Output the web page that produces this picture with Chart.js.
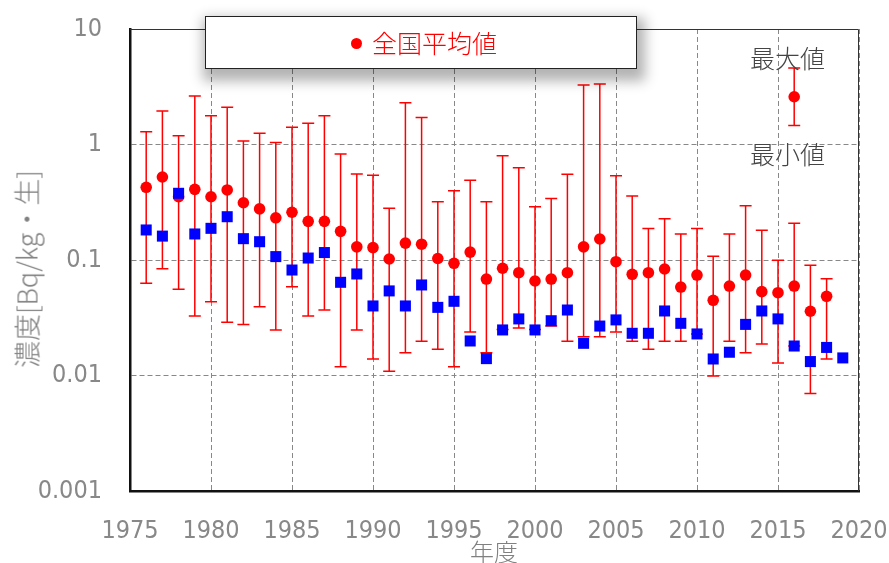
<!DOCTYPE html>
<html>
<head>
<meta charset="utf-8">
<script src="https://cdn.jsdelivr.net/npm/chart.js@4.4.1/dist/chart.umd.min.js"></script>
<style>
  body { margin: 0; background: #fff; }
  #wrap { position: relative; width: 889px; height: 563px; }
  #legend {
    position: absolute; left: 205px; top: 16px; width: 430px; height: 51px;
    border: 1.5px solid #222; background: #fff;
    box-shadow: 3px 7px 12px 5px rgba(0,0,0,0.3);
    font-family: "Noto Sans CJK JP"; font-weight: 300; font-size: 25px; color: #ff0000;
  }
  #legend .dot { position: absolute; left: 145px; top: 21px; width: 11px; height: 11px; border-radius: 50%; background: #ff0000; }
  #legend .txt { position: absolute; left: 166px; top: 7px; line-height: 36px; }
  .note { position: absolute; font-family: "Noto Sans CJK JP"; font-weight: 300; font-size: 25px; color: #444; line-height: 30px; }
  #ytitle {
    position: absolute; left: 26px; top: 269px; transform: translate(-50%, -50%) rotate(-90deg);
    white-space: nowrap; font-family: "Noto Sans CJK JP"; font-weight: 300; font-size: 27px; color: #808080;
  }
  #xtitle {
    position: absolute; left: 494px; top: 550px; transform: translate(-50%, -50%);
    font-family: "Noto Sans CJK JP"; font-weight: 300; font-size: 24px; color: #808080;
  }
</style>
</head>
<body>
<div id="wrap">
  <canvas id="chart" width="889" height="563"></canvas>
  <div id="legend"><span class="dot"></span><span class="txt">全国平均値</span></div>
  <div class="note" style="left:750px;top:42px;">最大値</div>
  <div class="note" style="left:750px;top:138px;">最小値</div>
  <div id="ytitle">濃度[Bq/kg・生]</div>
  <div id="xtitle">年度</div>
</div>
<script>
// 年度
let years = [1976, 1977, 1978, 1979, 1980, 1981, 1982, 1983, 1984, 1985,
  1986, 1987, 1988, 1989, 1990, 1991, 1992, 1993, 1994, 1995,
  1996, 1997, 1998, 1999, 2000, 2001, 2002, 2003, 2004, 2005,
  2006, 2007, 2008, 2009, 2010, 2011, 2012, 2013, 2014, 2015,
  2016, 2017, 2018];

// 全国平均値 and min / max
let meanVals = [0.426, 0.523, 0.353, 0.409, 0.353, 0.404, 0.313, 0.277, 0.232, 0.259,
  0.216, 0.216, 0.177, 0.130, 0.128, 0.102, 0.140, 0.137, 0.103, 0.0936,
  0.117, 0.0684, 0.0848, 0.0776, 0.0658, 0.0684, 0.0776, 0.130, 0.152, 0.0967,
  0.0752, 0.0776, 0.0836, 0.0583, 0.0741, 0.0448, 0.0595, 0.0741, 0.0532, 0.0521,
  0.0595, 0.0360, 0.0485];
let maxVals = [1.29, 1.95, 1.19, 2.63, 1.77, 2.10, 1.07, 1.25, 1.04, 1.41,
  1.53, 1.77, 0.828, 0.556, 0.541, 0.281, 2.30, 1.71, 0.320, 0.398,
  0.490, 0.320, 0.800, 0.630, 0.289, 0.340, 0.552, 3.27, 3.34, 0.537,
  0.358, 0.187, 0.228, 0.168, 0.187, 0.108, 0.168, 0.295, 0.181, 0.0993,
  0.208, 0.090, 0.0689];
let minVals = [0.0628, 0.0841, 0.0557, 0.0327, 0.0435, 0.0289, 0.0277, 0.0394, 0.0248, 0.0587,
  0.0327, 0.0369, 0.0119, 0.0248, 0.0139, 0.0109, 0.0157, 0.0198, 0.0169, 0.0119,
  0.0238, 0.0157, 0.0250, 0.0258, 0.0250, 0.0268, 0.0198, 0.0217, 0.0217, 0.0238,
  0.0198, 0.0169, 0.0198, 0.0198, 0.0229, 0.0099, 0.0198, 0.0157, 0.0187, 0.0128,
  0.0180, 0.0070, 0.0139];

// blue squares
let blueYears = [1976, 1977, 1978, 1979, 1980, 1981, 1982, 1983, 1984, 1985,
  1986, 1987, 1988, 1989, 1990, 1991, 1992, 1993, 1994, 1995,
  1996, 1997, 1998, 1999, 2000, 2001, 2002, 2003, 2004, 2005,
  2006, 2007, 2008, 2009, 2010, 2011, 2012, 2013, 2014, 2015,
  2016, 2017, 2018, 2019];
let blueVals = [0.182, 0.161, 0.378, 0.168, 0.188, 0.237, 0.153, 0.144, 0.107, 0.0819,
  0.104, 0.116, 0.0641, 0.0757, 0.040, 0.054, 0.040, 0.0608, 0.0389, 0.0439,
  0.0199, 0.0140, 0.0248, 0.0309, 0.0248, 0.0298, 0.0369, 0.0190, 0.0268, 0.0303,
  0.0232, 0.0232, 0.0362, 0.0283, 0.0229, 0.0139, 0.0159, 0.0277, 0.0362, 0.0309,
  0.0180, 0.0132, 0.0175, 0.0142];

// sample bar next to 最大値 / 最小値
let sampleYear = [2016];
let sampleMean = [2.59];
let sampleMax = [4.6];
let sampleMin = [1.46];

let yTicks = [10, 1, 0.1, 0.01, 0.001];

let red = '#ff0000';
let blue = '#0000ff';
let tickFont = { family: '"Liberation Sans Narrow", "DejaVu Sans Condensed", Roboto', size: 25, weight: 300 };

function pts(xs, ys) {
  return xs.map((x, i) => ({ x: x, y: ys[i] }));
}

// error bars drawn behind the points
let errorBars = {
  id: 'errorBars',
  beforeDatasetsDraw(chart) {
    let ctx = chart.ctx;
    let xs = chart.scales.x, ys = chart.scales.y;
    let sets = [[years, maxVals, minVals], [sampleYear, sampleMax, sampleMin]];
    ctx.save();
    ctx.strokeStyle = red;
    ctx.lineWidth = 1.5;
    sets.forEach(s => {
      s[0].forEach((yr, i) => {
        let px = xs.getPixelForValue(yr);
        let top = ys.getPixelForValue(s[1][i]);
        let bot = ys.getPixelForValue(s[2][i]);
        ctx.beginPath();
        ctx.moveTo(px, top); ctx.lineTo(px, bot);
        ctx.moveTo(px - 6, top); ctx.lineTo(px + 6, top);
        ctx.moveTo(px - 6, bot); ctx.lineTo(px + 6, bot);
        ctx.stroke();
      });
    });
    ctx.restore();
  },
  afterDatasetsDraw(chart) {
    // thin top / right frame
    let a = chart.chartArea, ctx = chart.ctx;
    ctx.save();
    ctx.strokeStyle = '#333';
    ctx.lineWidth = 1;
    ctx.beginPath();
    ctx.moveTo(a.left, a.top + 0.5); ctx.lineTo(a.right - 0.5, a.top + 0.5); ctx.lineTo(a.right - 0.5, a.bottom);
    ctx.stroke();
    ctx.restore();
  }
};

let ctx = document.getElementById('chart').getContext('2d');
let chart = new Chart(ctx, {
  type: 'scatter',
  data: {
    datasets: [
      {
        label: 'blue',
        data: pts(blueYears, blueVals),
        pointStyle: 'rect',
        pointRadius: 7.8,
        backgroundColor: blue,
        borderColor: blue,
        borderWidth: 0
      },
      {
        label: '全国平均値',
        data: pts(years, meanVals),
        pointStyle: 'circle',
        pointRadius: 5.8,
        backgroundColor: red,
        borderColor: red,
        borderWidth: 0
      },
      {
        label: 'sample',
        data: pts(sampleYear, sampleMean),
        pointStyle: 'circle',
        pointRadius: 5.8,
        backgroundColor: red,
        borderColor: red,
        borderWidth: 0
      }
    ]
  },
  options: {
    responsive: false,
    animation: false,
    layout: { padding: { left: 0, top: 29, right: 30, bottom: 0 } },
    plugins: { legend: { display: false }, tooltip: { enabled: false } },
    scales: {
      x: {
        type: 'linear',
        min: 1975, max: 2020,
        afterFit(s) { s.height = 72; s.paddingLeft = 0; s.paddingRight = 0; },
        ticks: {
          stepSize: 5,
          padding: 25,
          color: '#888',
          font: tickFont,
          callback: v => String(v)
        },
        grid: {
          color: '#888',
          lineWidth: 1,
          drawTicks: false
        },
        border: { color: '#111', width: 2.5, dash: [5, 3] }
      },
      y: {
        type: 'logarithmic',
        min: 0.001, max: 10,
        afterFit(s) { s.width = 130; s.paddingTop = 0; s.paddingBottom = 0; },
        afterBuildTicks(s) { s.ticks = yTicks.map(v => ({ value: v })); },
        ticks: {
          padding: 28,
          color: '#888',
          font: tickFont,
          callback: v => String(v)
        },
        grid: {
          color: '#888',
          lineWidth: 1,
          drawTicks: false
        },
        border: { color: '#111', width: 2.5, dash: [5, 3] }
      }
    }
  },
  plugins: [errorBars]
});
</script>
</body>
</html>
